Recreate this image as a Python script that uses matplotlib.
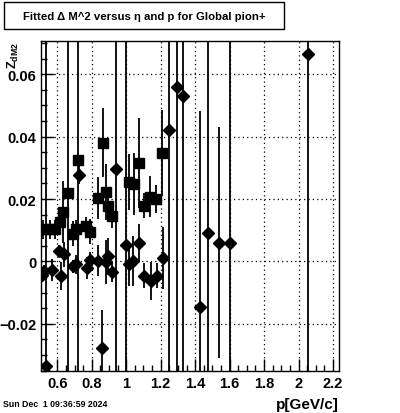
import matplotlib
matplotlib.use("Agg")
import matplotlib.pyplot as plt
from matplotlib.patches import Rectangle
from matplotlib.ticker import MultipleLocator, FuncFormatter

plt.rcParams['font.family'] = ['Liberation Sans', 'DejaVu Sans']
plt.rcParams['mathtext.fontset'] = 'custom'
plt.rcParams['mathtext.bf'] = 'Liberation Sans:bold'
plt.rcParams['mathtext.rm'] = 'Liberation Sans:bold'

# diamonds (first set)
p_dia = [0.508, 0.525, 0.534, 0.567, 0.612, 0.621, 0.639, 0.689, 0.709, 0.724,
         0.771, 0.790, 0.838, 0.861, 0.883, 0.896, 0.919, 0.941, 0.996, 1.018,
         1.041, 1.076, 1.105, 1.142, 1.177, 1.211, 1.250, 1.293, 1.331, 1.427,
         1.476, 1.540, 1.602, 2.057]
z_dia = [-0.0042, -0.0030, -0.0335, -0.0028, 0.0034, -0.0048, 0.0023, -0.0016, -0.0009, 0.0277,
         -0.0022, 0.0005, 0.0002, -0.0276, -0.0001, 0.0016, -0.0035, 0.0296, 0.0054, -0.0009,
         0.0002, 0.0059, -0.0046, -0.0062, -0.0046, 0.0011, 0.0421, 0.0558, 0.0530, -0.0147,
         0.0091, 0.0060, 0.0060, 0.0664]
e_dia = [0.002, 0.002, 0.2, 0.0035, 0.002, 0.0045, 0.004, 0.002, 0.003, 0.003,
         0.0035, 0.0025, 0.005, 0.012, 0.007, 0.006, 0.003, 0.2, 0.2, 0.007,
         0.008, 0.006, 0.004, 0.006, 0.004, 0.010, 0.2, 0.2, 0.2, 0.063,
         0.2, 0.037, 0.2, 0.2]

# squares (second set)
p_sq = [0.517, 0.558, 0.587, 0.616, 0.635, 0.664, 0.689, 0.709, 0.722, 0.767,
        0.790, 0.838, 0.863, 0.883, 0.896, 0.919, 1.018, 1.045, 1.076, 1.103,
        1.138, 1.173, 1.209]
z_sq = [0.0103, 0.0103, 0.0103, 0.0127, 0.0158, 0.0219, 0.0088, 0.0103, 0.0326, 0.0112,
        0.0095, 0.0202, 0.0381, 0.0223, 0.0178, 0.0146, 0.0255, 0.0248, 0.0315, 0.0178,
        0.0208, 0.0200, 0.0347]
e_sq = [0.003, 0.003, 0.003, 0.004, 0.010, 0.2, 0.004, 0.003, 0.2, 0.003,
        0.004, 0.0067, 0.011, 0.009, 0.005, 0.004, 0.009, 0.010, 0.0145, 0.004,
        0.0067, 0.0045, 0.0137]

fig = plt.figure(figsize=(4.0, 4.14), dpi=100)
ax = fig.add_axes([0.1025, 0.1014, 0.745, 0.797])

ax.errorbar(p_sq, z_sq, yerr=e_sq, fmt='s', color='black', ms=7,
            elinewidth=1.3, capsize=0)
ax.errorbar(p_dia, z_dia, yerr=e_dia, fmt='D', color='black', ms=6,
            elinewidth=1.3, capsize=0)

ax.set_xlim(0.505, 2.235)
ax.set_ylim(-0.0351, 0.0706)

ax.xaxis.set_major_locator(MultipleLocator(0.2))
ax.xaxis.set_minor_locator(MultipleLocator(0.05))
ax.yaxis.set_major_locator(MultipleLocator(0.02))
ax.yaxis.set_minor_locator(MultipleLocator(0.005))
ax.xaxis.set_major_formatter(FuncFormatter(lambda v, pos: '%g' % round(v, 3)))
ax.yaxis.set_major_formatter(FuncFormatter(lambda v, pos: ('%g' % round(v, 3)).replace('-', '\u2212')))

ax.tick_params(which='major', direction='in', length=9, width=1, labelsize=10.5)
ax.tick_params(which='minor', direction='in', length=4.5, width=1)
for lab in ax.get_xticklabels() + ax.get_yticklabels():
    lab.set_fontweight('bold')
ax.grid(True, which='major', linestyle=(0, (1, 2.5)), color='black', linewidth=0.9)
for s in ax.spines.values():
    s.set_linewidth(1)

# title box
fig.patches.append(Rectangle((4 / 400, 1 - 30 / 414), 280 / 400, 27 / 414,
                             transform=fig.transFigure, fill=False,
                             edgecolor='black', linewidth=1))
fig.text(144 / 400, 1 - 16.5 / 414, "Fitted \u0394 M^2 versus \u03b7 and p for Global pion+",
         ha='center', va='center', fontsize=8.2, fontweight='bold')

fig.text(13 / 400, 1 - 42 / 414, r'$\mathbf{Z}_{\mathbf{dM2}}$', rotation=90,
         ha='center', va='top', fontsize=9)
fig.text(339 / 400, 1 - 405 / 414, "p[GeV/c]", ha='right', va='center',
         fontsize=11, fontweight='bold')
fig.text(3 / 400, 1 - 405 / 414, "Sun Dec  1 09:36:59 2024", ha='left', va='center',
         fontsize=6.3, fontweight='bold')

fig.savefig('out.png', dpi=100)
